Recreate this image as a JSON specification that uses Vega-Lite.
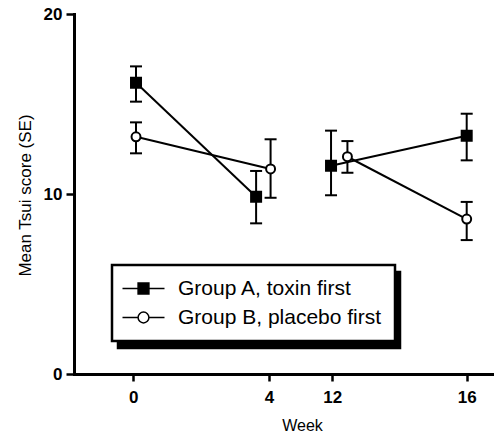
{
  "$schema": "https://vega.github.io/schema/vega-lite/v6.json",
  "description": "Mean Tsui score (SE) by week for the two crossover groups.",
  "width": 418,
  "height": 360,
  "autosize": "none",
  "padding": {"left": 74, "top": 14, "right": 3, "bottom": 60},
  "background": "white",
  "config": {
    "font": "Liberation Sans",
    "view": {"stroke": null},
    "legend": {
      "strokeWidth": 2.5,
      "title": null,
      "direction": "vertical",
      "padding": 13,
      "labelFont": "Liberation Sans",
      "labelFontSize": 21,
      "labelColor": "black",
      "labelLimit": 0,
      "symbolSize": 144,
      "symbolOffset": 8,
      "labelOffset": 24,
      "rowPadding": 7
    },
    "axis": {
      "grid": false,
      "domainColor": "black",
      "domainWidth": 3,
      "domainCap": "square",
      "tickColor": "black",
      "tickWidth": 2.5,
      "labelColor": "black",
      "labelFontWeight": "bold",
      "labelFontSize": 17,
      "titleColor": "black",
      "titleFontWeight": "normal"
    }
  },
  "data": {
    "values": [
      {"group": "Group A, toxin first", "seg": "A1", "week": 0.08, "mean": 16.18, "lo": 15.13, "hi": 17.09},
      {"group": "Group A, toxin first", "seg": "A1", "week": 3.62, "mean": 9.85, "lo": 8.37, "hi": 11.28},
      {"group": "Group A, toxin first", "seg": "A2", "week": 11.84, "mean": 11.57, "lo": 9.93, "hi": 13.52},
      {"group": "Group A, toxin first", "seg": "A2", "week": 16, "mean": 13.24, "lo": 11.87, "hi": 14.46},
      {"group": "Group B, placebo first", "seg": "B1", "week": 0.08, "mean": 13.18, "lo": 12.26, "hi": 13.98},
      {"group": "Group B, placebo first", "seg": "B1", "week": 4.2, "mean": 11.39, "lo": 9.79, "hi": 13.04},
      {"group": "Group B, placebo first", "seg": "B2", "week": 12.45, "mean": 12.07, "lo": 11.18, "hi": 12.94},
      {"group": "Group B, placebo first", "seg": "B2", "week": 16, "mean": 8.61, "lo": 7.44, "hi": 9.56}
    ]
  },
  "encoding": {
    "x": {
      "field": "week",
      "type": "quantitative",
      "scale": {
        "domain": [-1.75, 0, 4, 12, 16, 16.75],
        "range": [0, 59.3, 195, 258.3, 392.7, 418],
        "zero": false,
        "nice": false
      },
      "axis": {
        "values": [0, 4, 12, 16],
        "tickSize": 7,
        "labelPadding": 8,
        "labelFlush": false,
        "title": "Week",
        "titleFontSize": 16,
        "titleX": 228,
        "titleY": 56,
        "titleAlign": "center",
        "titleBaseline": "alphabetic"
      }
    }
  },
  "layer": [
    {
      "mark": {"type": "rule", "color": "black", "strokeWidth": 2},
      "encoding": {
        "y": {
          "field": "lo",
          "type": "quantitative",
          "scale": {"domain": [0, 20], "zero": false, "nice": false},
          "axis": {
            "values": [0, 10, 20],
            "tickSize": 8,
            "labelPadding": 4,
            "title": "Mean Tsui score (SE)",
            "titleFontSize": 17,
            "titleX": -49,
            "titleY": 181,
            "titleAngle": -90,
            "titleAlign": "center",
            "titleBaseline": "middle"
          }
        },
        "y2": {"field": "hi"}
      }
    },
    {
      "mark": {"type": "tick", "orient": "horizontal", "color": "black", "size": 12, "thickness": 2, "opacity": 1},
      "encoding": {"y": {"field": "lo", "type": "quantitative"}}
    },
    {
      "mark": {"type": "tick", "orient": "horizontal", "color": "black", "size": 12, "thickness": 2, "opacity": 1},
      "encoding": {"y": {"field": "hi", "type": "quantitative"}}
    },
    {
      "mark": {"type": "line", "color": "black", "strokeWidth": 2},
      "encoding": {
        "y": {"field": "mean", "type": "quantitative"},
        "detail": {"field": "seg", "type": "nominal"}
      }
    },
    {
      "mark": {"type": "point", "filled": true, "stroke": "black", "opacity": 0, "size": 80},
      "encoding": {
        "y": {"field": "mean", "type": "quantitative"},
        "fill": {
          "field": "group",
          "type": "nominal",
          "scale": {"domain": ["Group A, toxin first", "Group B, placebo first"], "range": ["black", "white"]}
        },
        "strokeWidth": {
          "field": "group",
          "type": "nominal",
          "scale": {"domain": ["Group B, placebo first", "Group A, toxin first"], "range": [2, 2]},
          "legend": {
            "orient": "none",
            "legendX": 44,
            "legendY": 258,
            "zindex": 1,
            "strokeColor": "black",
            "fillColor": "black",
            "labelExpr": "''",
            "labelOffset": 227,
            "labelOpacity": 0,
            "symbolOpacity": 0
          }
        },
        "shape": {
          "field": "group",
          "type": "nominal",
          "scale": {
            "domain": ["Group A, toxin first", "Group B, placebo first"],
            "range": [
              "M-3.5,0H3.5M-0.9,-0.9H0.9V0.9H-0.9Z",
              "M-3.5,0H-0.9M0.9,0H3.5M0.9,0A0.9,0.9 0 1,1 -0.9,0A0.9,0.9 0 1,1 0.9,0Z"
            ]
          },
          "legend": {
            "orient": "none",
            "legendX": 38,
            "legendY": 251,
            "zindex": 2,
            "strokeColor": "black",
            "fillColor": "white",
            "symbolOpacity": 1,
            "encode": {
              "symbols": {
                "stroke": {"value": "black"},
                "strokeWidth": {"value": 2}
              }
            }
          }
        }
      }
    },
    {
      "mark": {"type": "point", "filled": true, "stroke": "black", "strokeWidth": 2, "opacity": 1},
      "encoding": {
        "y": {"field": "mean", "type": "quantitative"},
        "shape": {
          "condition": {"test": "datum.group === 'Group A, toxin first'", "value": "square"},
          "value": "circle"
        },
        "fill": {
          "condition": {"test": "datum.group === 'Group A, toxin first'", "value": "black"},
          "value": "white"
        },
        "size": {
          "condition": {"test": "datum.group === 'Group A, toxin first'", "value": 100},
          "value": 80
        }
      }
    }
  ]
}
